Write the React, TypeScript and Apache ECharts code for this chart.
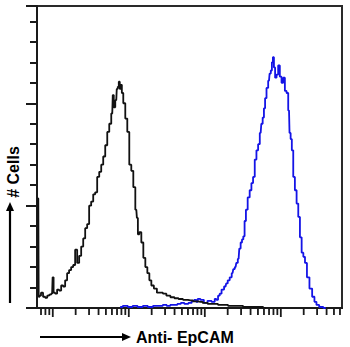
import React, { useEffect, useRef } from "react";
import * as echarts from "echarts";

// Isotype control (black) histogram: [fluorescence, # cells]
const controlHist: [number, number][] = [
  [6.2, 107], [6.45, 107], [6.6, 11], [6.8, 12], [7.2, 15], [7.7, 11], [8.2, 10], [8.7, 12], [9.2, 13],
  [9.8, 14], [10.1, 30], [10.4, 15], [11.1, 14], [11.7, 18], [12.5, 17], [13.3, 22], [14.1, 21],
  [15.0, 27], [15.9, 34], [16.9, 37], [18.0, 40], [19.1, 42], [20.3, 57], [21.6, 44], [22.9, 51],
  [24.4, 60], [25.9, 68], [27.5, 78], [29.2, 82], [31.0, 100], [33.0, 104], [35.1, 111], [37.2, 113],
  [39.6, 128], [42.1, 133], [44.7, 140], [47.5, 148], [50.5, 159], [53.7, 172], [57.0, 180],
  [60.6, 190], [62.5, 208], [64.4, 196], [68.4, 203], [70.5, 214], [72.7, 216], [75.0, 221],
  [77.2, 214], [80.0, 218], [82.1, 210], [87.2, 200], [92.7, 185], [98.5, 172], [104.6, 140],
  [111.2, 134], [118.2, 118], [125.6, 96], [130.0, 88], [133.4, 72], [141.8, 74], [150.7, 64],
  [160.1, 49], [170.1, 40], [180.8, 34], [192.1, 27], [204, 22], [224, 19], [245, 15], [269, 15],
  [294, 14], [332, 12], [375, 10.5], [424, 9.5], [479, 8.8], [556, 8], [647, 7.5], [753, 6.5],
  [876, 6], [1000, 5], [1189, 4], [1383, 4], [1611, 3], [1875, 3], [2183, 2], [2541, 2],
  [2958, 2], [3444, 1], [4009, 1], [4667, 1], [5433, 1], [6325, 0]
];

// Anti-EpCAM stained (blue) histogram: [fluorescence, # cells]
const epcamHist: [number, number][] = [
  [77, 1], [90, 2], [105, 1], [120, 2], [142, 1], [165, 2], [192, 1], [225, 2], [261, 2],
  [300, 3], [332, 2], [370, 3], [411, 3], [460, 4], [508, 5], [570, 4], [647, 5], [700, 7],
  [753, 8], [790, 6], [826, 9], [925, 8], [1021, 5], [1153, 7], [1303, 6], [1400, 9], [1458, 8],
  [1530, 12], [1611, 14], [1713, 18], [1875, 21], [1950, 24], [2055, 27], [2200, 30], [2319, 34],
  [2420, 38], [2541, 40], [2650, 44], [2784, 48], [2900, 58], [3022, 64], [3150, 67], [3273, 70],
  [3400, 85], [3550, 96], [3780, 108], [4009, 115], [4200, 122], [4430, 128], [4650, 145],
  [4909, 154], [5150, 160], [5429, 171], [5650, 180], [5893, 186], [6100, 195], [6319, 205],
  [6650, 215], [6989, 222], [7250, 229], [7516, 232], [7750, 240], [7983, 245], [8250, 235],
  [8566, 225], [9000, 228], [9462, 237], [9950, 226], [10490, 220], [11020, 225], [11600, 212],
  [12210, 210], [12820, 193], [13220, 171], [13700, 165], [14220, 154], [14930, 128],
  [15700, 115], [16560, 102], [17380, 89], [18310, 69], [19280, 54], [20300, 50], [21300, 44],
  [22850, 30], [24800, 19], [26900, 11], [28500, 6], [30400, 3], [33600, 1], [39100, 0]
];

// Log-axis tick positions (decades are the long ones)
const xTickValues: number[] = [
  7, 8, 9, 10, 20, 30, 40, 50, 60, 70, 80, 90, 100, 200, 300, 400, 500, 600, 700, 800, 900,
  1000, 2000, 3000, 4000, 5000, 6000, 7000, 8000, 9000, 10000, 20000, 30000, 40000, 50000, 60000
];
const xMajor: number[] = [10, 100, 1000, 10000];

const X_MIN = 6.2;
const X_MAX = 63800;
const Y_MAX = 295;

export default function App() {
  const ref = useRef<HTMLDivElement>(null);
  useEffect(() => {
    if (!ref.current) return;
    const chart = echarts.init(ref.current, null, { renderer: "svg" });
    const font = '"Liberation Sans", Arial, sans-serif';
    chart.setOption({
      animation: false,
      backgroundColor: "#ffffff",
      grid: {
        left: 37, top: 6, right: 8, bottom: 39,
        show: true, borderColor: "#2a2a2a", borderWidth: 2, backgroundColor: "transparent"
      },
      xAxis: {
        type: "log", min: X_MIN, max: X_MAX, logBase: 10,
        axisLine: { show: true, lineStyle: { color: "#1a1a1a", width: 2 } },
        axisTick: { show: false }, axisLabel: { show: false }, splitLine: { show: false }
      },
      yAxis: {
        type: "value", min: 0, max: Y_MAX, interval: 100,
        axisLine: { show: true, lineStyle: { color: "#1a1a1a", width: 2 } },
        axisTick: { show: true, length: 11, lineStyle: { color: "#1a1a1a", width: 2 } },
        minorTick: { show: true, splitNumber: 5, length: 7, lineStyle: { color: "#1a1a1a", width: 2 } },
        axisLabel: { show: false }, splitLine: { show: false }, minorSplitLine: { show: false }
      },
      series: [
        {
          type: "line", data: epcamHist, step: "middle", symbol: "none",
          lineStyle: { color: "#1414e6", width: 1.8 }, z: 2
        },
        {
          type: "line", data: controlHist, step: "middle", symbol: "none",
          lineStyle: { color: "#111111", width: 1.8 }, z: 3
        },
        {
          type: "custom", clip: false, z: 4,
          data: xTickValues.map((v) => [v, 0]),
          renderItem: (params: any, api: any) => {
            const v = api.value(0);
            const p = api.coord([v, 0]);
            const len = xMajor.indexOf(v) >= 0 ? 9 : 7;
            return {
              type: "line",
              shape: { x1: p[0], y1: p[1], x2: p[0], y2: p[1] + len },
              style: { stroke: "#1a1a1a", lineWidth: 1.8 }
            };
          }
        }
      ],
      graphic: [
        {
          type: "text", x: 13, y: 172, rotation: Math.PI / 2,
          style: { text: "# Cells", font: `bold 16px ${font}`, fill: "#000", align: "center", verticalAlign: "middle" }
        },
        { type: "line", shape: { x1: 10, y1: 303, x2: 10, y2: 210 }, style: { stroke: "#000", lineWidth: 2.2 } },
        { type: "polygon", shape: { points: [[10, 202], [6, 211], [14, 211]] }, style: { fill: "#000" } },
        { type: "line", shape: { x1: 40, y1: 337, x2: 123, y2: 337 }, style: { stroke: "#000", lineWidth: 2.2 } },
        { type: "polygon", shape: { points: [[131, 337], [122, 333], [122, 341]] }, style: { fill: "#000" } },
        {
          type: "text", x: 136, y: 337,
          style: { text: "Anti- EpCAM", font: `bold 16px ${font}`, fill: "#000", align: "left", verticalAlign: "middle" }
        }
      ]
    });
    return () => chart.dispose();
  }, []);
  return <div ref={ref} style={{ position: "fixed", left: 0, top: 0, width: 350, height: 347 }} />;
}
